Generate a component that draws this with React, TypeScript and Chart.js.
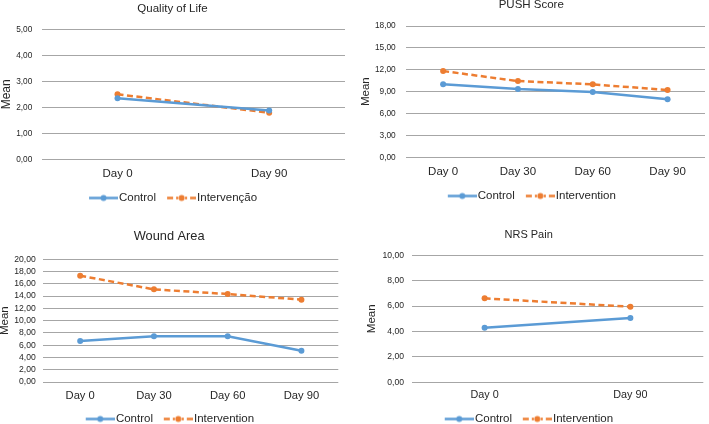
import React, { useEffect, useRef } from "react";
import { Chart, registerables } from "chart.js";

Chart.register(...registerables);

// ---------- DATA ----------
const qolTitle = "Quality of Life";
const qolCategories = ["Day 0", "Day 90"];
const qolControl = [2.35, 1.88];
const qolIntervention = [2.5, 1.79];
const qolTicks = [0, 1, 2, 3, 4, 5];
const qolSeriesNames = ["Control", "Intervenção"];

const pushTitle = "PUSH Score";
const pushCategories = ["Day 0", "Day 30", "Day 60", "Day 90"];
const pushControl = [10.0, 9.36, 8.95, 7.95];
const pushIntervention = [11.82, 10.45, 10.0, 9.22];
const pushTicks = [0, 3, 6, 9, 12, 15, 18];
const pushSeriesNames = ["Control", "Intervention"];

const woundTitle = "Wound Area";
const woundCategories = ["Day 0", "Day 30", "Day 60", "Day 90"];
const woundControl = [6.68, 7.45, 7.45, 5.1];
const woundIntervention = [17.33, 15.1, 14.34, 13.42];
const woundTicks = [0, 2, 4, 6, 8, 10, 12, 14, 16, 18, 20];
const woundSeriesNames = ["Control", "Intervention"];

const nrsTitle = "NRS Pain";
const nrsCategories = ["Day 0", "Day 90"];
const nrsControl = [4.3, 5.06];
const nrsIntervention = [6.61, 5.95];
const nrsTicks = [0, 2, 4, 6, 8, 10];
const nrsSeriesNames = ["Control", "Intervention"];

const yAxisTitle = "Mean";

// ---------- STYLE ----------
const BLUE = "#5B9BD5";
const ORANGE = "#ED7D31";
const GRID = "#A6A6A6";
const TEXT = "#262626";
const FONT = "'Liberation Sans', Arial, Helvetica, sans-serif";
const DASH = [6, 3.5];

type Layout = {
  x: number; y: number; w: number; h: number;
  plotL: number; plotR: number; plotT: number; plotB: number;
  titleY: number; titleSize: number;
  labelY: number; catSize: number;
  legendY: number; legendSize: number;
  meanX: number; meanSize: number;
  tickSize: number; tickGap: number;
};

type PanelData = {
  title: string;
  categories: string[];
  control: number[];
  intervention: number[];
  ticks: number[];
  names: string[];
};

// legend icon: a 29px line with a marker, right-aligned inside a canvas of width cw
function legendIcon(color: string, dashed: boolean, cw: number) {
  const c = document.createElement("canvas");
  c.width = cw;
  c.height = 9;
  const ctx = c.getContext("2d")!;
  const x0 = cw - 29;
  const x1 = cw;
  const xm = (x0 + x1) / 2;
  ctx.strokeStyle = color;
  ctx.lineWidth = 2.5;
  if (dashed) {
    ctx.setLineDash([6, 3]);
    ctx.beginPath();
    ctx.moveTo(x0, 4.5);
    ctx.lineTo(xm - 3.5, 4.5);
    ctx.stroke();
    ctx.beginPath();
    ctx.moveTo(x1, 4.5);
    ctx.lineTo(xm + 3.5, 4.5);
    ctx.stroke();
    ctx.setLineDash([]);
  } else {
    ctx.beginPath();
    ctx.moveTo(x0, 4.5);
    ctx.lineTo(x1, 4.5);
    ctx.stroke();
  }
  ctx.fillStyle = color;
  ctx.beginPath();
  ctx.arc(xm, 4.5, 3, 0, Math.PI * 2);
  ctx.fill();
  return c;
}

function fmt(v: number) {
  return v.toFixed(2).replace(".", ",");
}

function makeConfig(d: PanelData, s: Layout): any {
  const lhT = s.titleSize * 1.2;
  const lhX = s.catSize * 1.2;
  const lhM = s.meanSize * 1.2;
  const itemH = s.legendSize;
  const xPad = s.labelY - s.plotB - lhX / 2;
  const xH = xPad + lhX + 1.5;
  const p = Math.max(2, s.legendY - s.plotB - xH - itemH / 2);
  const natural = itemH + p + 10;
  const pb = Math.max(0, s.h - s.plotB - xH - natural);
  const M = s.h - s.plotB - xH - pb;
  const gapTarget = 11;
  const bw = 29 + gapTarget - p - 4.75;
  const cw = Math.round(bw + 9.5);
  const icons = [legendIcon(BLUE, false, cw), legendIcon(ORANGE, true, cw)];

  return {
    type: "line",
    data: {
      labels: d.categories,
      datasets: [
        {
          label: d.names[0],
          data: d.control,
          borderColor: BLUE,
          backgroundColor: BLUE,
          borderWidth: 2.5,
          pointRadius: 3,
          pointBorderWidth: 0,
          pointBackgroundColor: BLUE,
          tension: 0,
        },
        {
          label: d.names[1],
          data: d.intervention,
          borderColor: ORANGE,
          backgroundColor: ORANGE,
          borderWidth: 2.5,
          borderDash: DASH,
          pointRadius: 3,
          pointBorderWidth: 0,
          pointBackgroundColor: ORANGE,
          tension: 0,
        },
      ],
    },
    options: {
      responsive: false,
      animation: false,
      events: [],
      layout: { padding: { left: 0, top: 0, right: s.w - s.plotR, bottom: pb } },
      plugins: {
        tooltip: { enabled: false },
        title: {
          display: true,
          text: d.title,
          color: TEXT,
          font: { family: FONT, size: s.titleSize, weight: "normal" },
          padding: { top: s.titleY - lhT / 2, bottom: s.plotT - s.titleY - lhT / 2 },
        },
        legend: {
          display: true,
          position: "bottom",
          maxHeight: M,
          labels: {
            usePointStyle: true,
            pointStyleWidth: bw,
            padding: p,
            color: TEXT,
            font: { family: FONT, size: s.legendSize },
            generateLabels: (chart: any) =>
              chart.data.datasets.map((ds: any, i: number) => ({
                text: ds.label,
                pointStyle: icons[i],
                fillStyle: ds.borderColor,
                strokeStyle: ds.borderColor,
                lineWidth: 0,
                fontColor: TEXT,
                hidden: false,
                datasetIndex: i,
              })),
          },
        },
      },
      scales: {
        x: {
          type: "category",
          offset: true,
          grid: { display: false, drawTicks: false },
          border: { display: false },
          ticks: {
            color: TEXT,
            padding: xPad,
            font: { family: FONT, size: s.catSize },
            maxRotation: 0,
            autoSkip: false,
          },
          afterFit: (scale: any) => {
            scale.height = xH;
          },
        },
        y: {
          min: d.ticks[0],
          max: d.ticks[d.ticks.length - 1],
          afterBuildTicks: (scale: any) => {
            scale.ticks = d.ticks.map((v) => ({ value: v }));
          },
          grid: { color: GRID, lineWidth: 1, drawTicks: false },
          border: { display: false },
          ticks: {
            color: TEXT,
            padding: s.tickGap,
            autoSkip: false,
            font: { family: FONT, size: s.tickSize },
            callback: (v: any) => fmt(Number(v)),
          },
          title: {
            display: true,
            text: yAxisTitle,
            color: TEXT,
            font: { family: FONT, size: s.meanSize },
            padding: { top: s.meanX - lhM / 2, bottom: 0 },
          },
          afterFit: (scale: any) => {
            scale.width = s.plotL;
          },
        },
      },
    },
  };
}

const layouts: Layout[] = [
  {
    x: 0, y: 0, w: 354, h: 212,
    plotL: 41.7, plotR: 345, plotT: 29.3, plotB: 159.3,
    titleY: 9, titleSize: 11.5,
    labelY: 174, catSize: 11.5,
    legendY: 198, legendSize: 11.5,
    meanX: 7, meanSize: 12,
    tickSize: 8.3, tickGap: 9.4,
  },
  {
    x: 354, y: 0, w: 355, h: 212,
    plotL: 51.7, plotR: 354.5, plotT: 26, plotB: 157.3,
    titleY: 5, titleSize: 11.5,
    labelY: 172, catSize: 11.5,
    legendY: 196, legendSize: 11.5,
    meanX: 11.7, meanSize: 11.5,
    tickSize: 8.3, tickGap: 10,
  },
  {
    x: 0, y: 212, w: 354, h: 212,
    plotL: 43.3, plotR: 338.3, plotT: 47.3, plotB: 170,
    titleY: 24.3, titleSize: 12.8,
    labelY: 183.7, catSize: 11.2,
    legendY: 207, legendSize: 11.5,
    meanX: 4.5, meanSize: 11.5,
    tickSize: 8.6, tickGap: 7.6,
  },
  {
    x: 354, y: 212, w: 355, h: 212,
    plotL: 57.7, plotR: 349.3, plotT: 43.3, plotB: 170.3,
    titleY: 23.3, titleSize: 11,
    labelY: 183, catSize: 10.8,
    legendY: 207, legendSize: 11.5,
    meanX: 18.3, meanSize: 11.5,
    tickSize: 8.6, tickGap: 7.7,
  },
];

const panels: PanelData[] = [
  { title: qolTitle, categories: qolCategories, control: qolControl, intervention: qolIntervention, ticks: qolTicks, names: qolSeriesNames },
  { title: pushTitle, categories: pushCategories, control: pushControl, intervention: pushIntervention, ticks: pushTicks, names: pushSeriesNames },
  { title: woundTitle, categories: woundCategories, control: woundControl, intervention: woundIntervention, ticks: woundTicks, names: woundSeriesNames },
  { title: nrsTitle, categories: nrsCategories, control: nrsControl, intervention: nrsIntervention, ticks: nrsTicks, names: nrsSeriesNames },
];

function Panel({ data, layout }: { data: PanelData; layout: Layout }) {
  const ref = useRef<HTMLCanvasElement>(null);
  useEffect(() => {
    if (!ref.current) return;
    const chart = new Chart(ref.current, makeConfig(data, layout));
    return () => chart.destroy();
  }, []);
  return (
    <div style={{ position: "absolute", left: layout.x, top: layout.y, width: layout.w, height: layout.h }}>
      <canvas ref={ref} width={layout.w} height={layout.h} style={{ display: "block", width: layout.w, height: layout.h }} />
    </div>
  );
}

export default function App() {
  useEffect(() => {
    document.body.style.margin = "0";
    document.body.style.background = "#ffffff";
  }, []);
  return (
    <div style={{ position: "absolute", left: 0, top: 0, width: 709, height: 424, overflow: "hidden", background: "#fff" }}>
      {panels.map((d, i) => (
        <Panel key={i} data={d} layout={layouts[i]} />
      ))}
    </div>
  );
}
